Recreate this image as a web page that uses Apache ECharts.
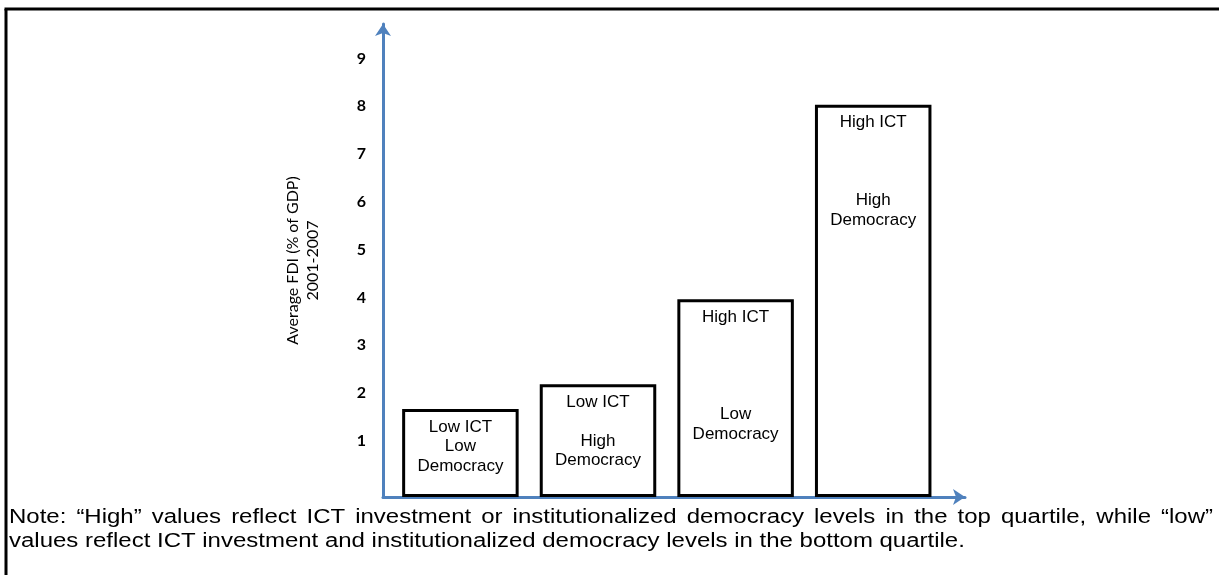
<!DOCTYPE html>
<html>
<head>
<meta charset="utf-8">
<script src="https://cdn.jsdelivr.net/npm/echarts@6/dist/echarts.min.js"></script>
<style>
  html, body { margin: 0; padding: 0; background: #fff; }
  #chart { width: 1219px; height: 575px; }
</style>
</head>
<body>
<div id="chart"></div>
<script>
// data
var ictLevel = ['Low ICT', 'Low ICT', 'High ICT', 'High ICT'];
var democracyLevel = ['Low', 'High', 'Low', 'High'];
var fdiValues = [1.84, 2.36, 4.14, 8.21];
var yAxisName = 'Average FDI (% of GDP)\n2001-2007';
var noteLines = [
  'Note: \u201cHigh\u201d values reflect ICT investment or institutionalized democracy levels in the top quartile, while \u201clow\u201d',
  'values reflect ICT investment and institutionalized democracy levels in the bottom quartile.'
];

// empty lines between the ICT and democracy text inside each bar
var spacerLines = [0, 1, 4, 3];
var axisBlue = '#4f81bd';
var noteFont = '19.5px "Liberation Sans", Arial, sans-serif';
var noteStretch = 1.23; // the note's glyphs are wider than plain Arial

var measureCtx = document.createElement('canvas').getContext('2d');
measureCtx.font = noteFont;

function noteText(text, x, y) {
  return { type: 'text', x: x, y: y, scaleX: noteStretch, style: { text: text, font: noteFont, fill: '#000', verticalAlign: 'middle' } };
}

// spreads the words of one line between x0 and x1 (justified text)
function justifiedLine(text, x0, x1, y) {
  var words = text.split(' ');
  var widths = words.map(function (w) { return measureCtx.measureText(w).width * noteStretch; });
  var total = widths.reduce(function (a, b) { return a + b; }, 0);
  var gap = (x1 - x0 - total) / (words.length - 1);
  var x = x0, out = [];
  for (var i = 0; i < words.length; i++) {
    out.push(noteText(words[i], x, y));
    x += widths[i] + gap;
  }
  return out;
}

var graphics = [
  { type: 'line', shape: { x1: 6, y1: 9, x2: 6, y2: 575 }, style: { stroke: '#000', lineWidth: 3 } },
  { type: 'line', shape: { x1: 4.5, y1: 9, x2: 1219, y2: 9 }, style: { stroke: '#000', lineWidth: 3 } }
];
graphics = graphics.concat(justifiedLine(noteLines[0], 9, 1213, 518));
graphics.push(noteText(noteLines[1], 9, 542));

var chart = echarts.init(document.getElementById('chart'));
chart.setOption({
  animation: false,
  backgroundColor: '#fff',
  grid: [
    { left: 383, right: 254, top: 24, bottom: 78 },
    { left: 391.6, right: 277, top: 24, bottom: 78 }
  ],
  xAxis: [
    {
      type: 'value', gridIndex: 0, min: 0, max: 1,
      axisLine: { show: true, symbol: ['none', 'arrow'], symbolSize: [12, 12], lineStyle: { color: axisBlue, width: 3 } },
      axisTick: { show: false }, axisLabel: { show: false }, splitLine: { show: false }
    },
    {
      type: 'category', gridIndex: 1, data: ictLevel,
      axisLine: { show: false }, axisTick: { show: false }, axisLabel: { show: false }
    }
  ],
  yAxis: [
    {
      type: 'value', gridIndex: 0, min: 0, max: 9.9, interval: 1,
      name: yAxisName, nameLocation: 'middle', nameRotate: 90, nameGap: 60,
      nameTextStyle: { fontFamily: 'Lato', fontSize: 16, lineHeight: 20, color: '#000' },
      axisLine: { show: true, symbol: ['none', 'arrow'], symbolSize: [12, 12], lineStyle: { color: axisBlue, width: 3 } },
      axisTick: { show: false }, splitLine: { show: false },
      axisLabel: {
        showMinLabel: false, showMaxLabel: false, margin: 17, color: '#000',
        fontFamily: 'Lato', fontWeight: 'bold', fontSize: 16, lineHeight: 17, verticalAlign: 'bottom'
      }
    },
    {
      type: 'value', gridIndex: 1, min: 0, max: 9.9, interval: 1, show: false
    }
  ],
  series: [{
    type: 'bar',
    xAxisIndex: 1, yAxisIndex: 1,
    data: fdiValues,
    barWidth: 116.5,
    itemStyle: { color: '#fff', borderColor: '#000', borderWidth: 3 },
    label: {
      show: true, position: 'insideTop', distance: 8,
      fontFamily: '"Liberation Sans", Arial, sans-serif', fontSize: 17, lineHeight: 19.5, color: '#000', align: 'center',
      formatter: function (p) {
        var i = p.dataIndex;
        return ictLevel[i] + '\n' + new Array(spacerLines[i] + 1).join('\n') + democracyLevel[i] + '\nDemocracy';
      }
    }
  }],
  graphic: graphics
});
</script>
</body>
</html>
